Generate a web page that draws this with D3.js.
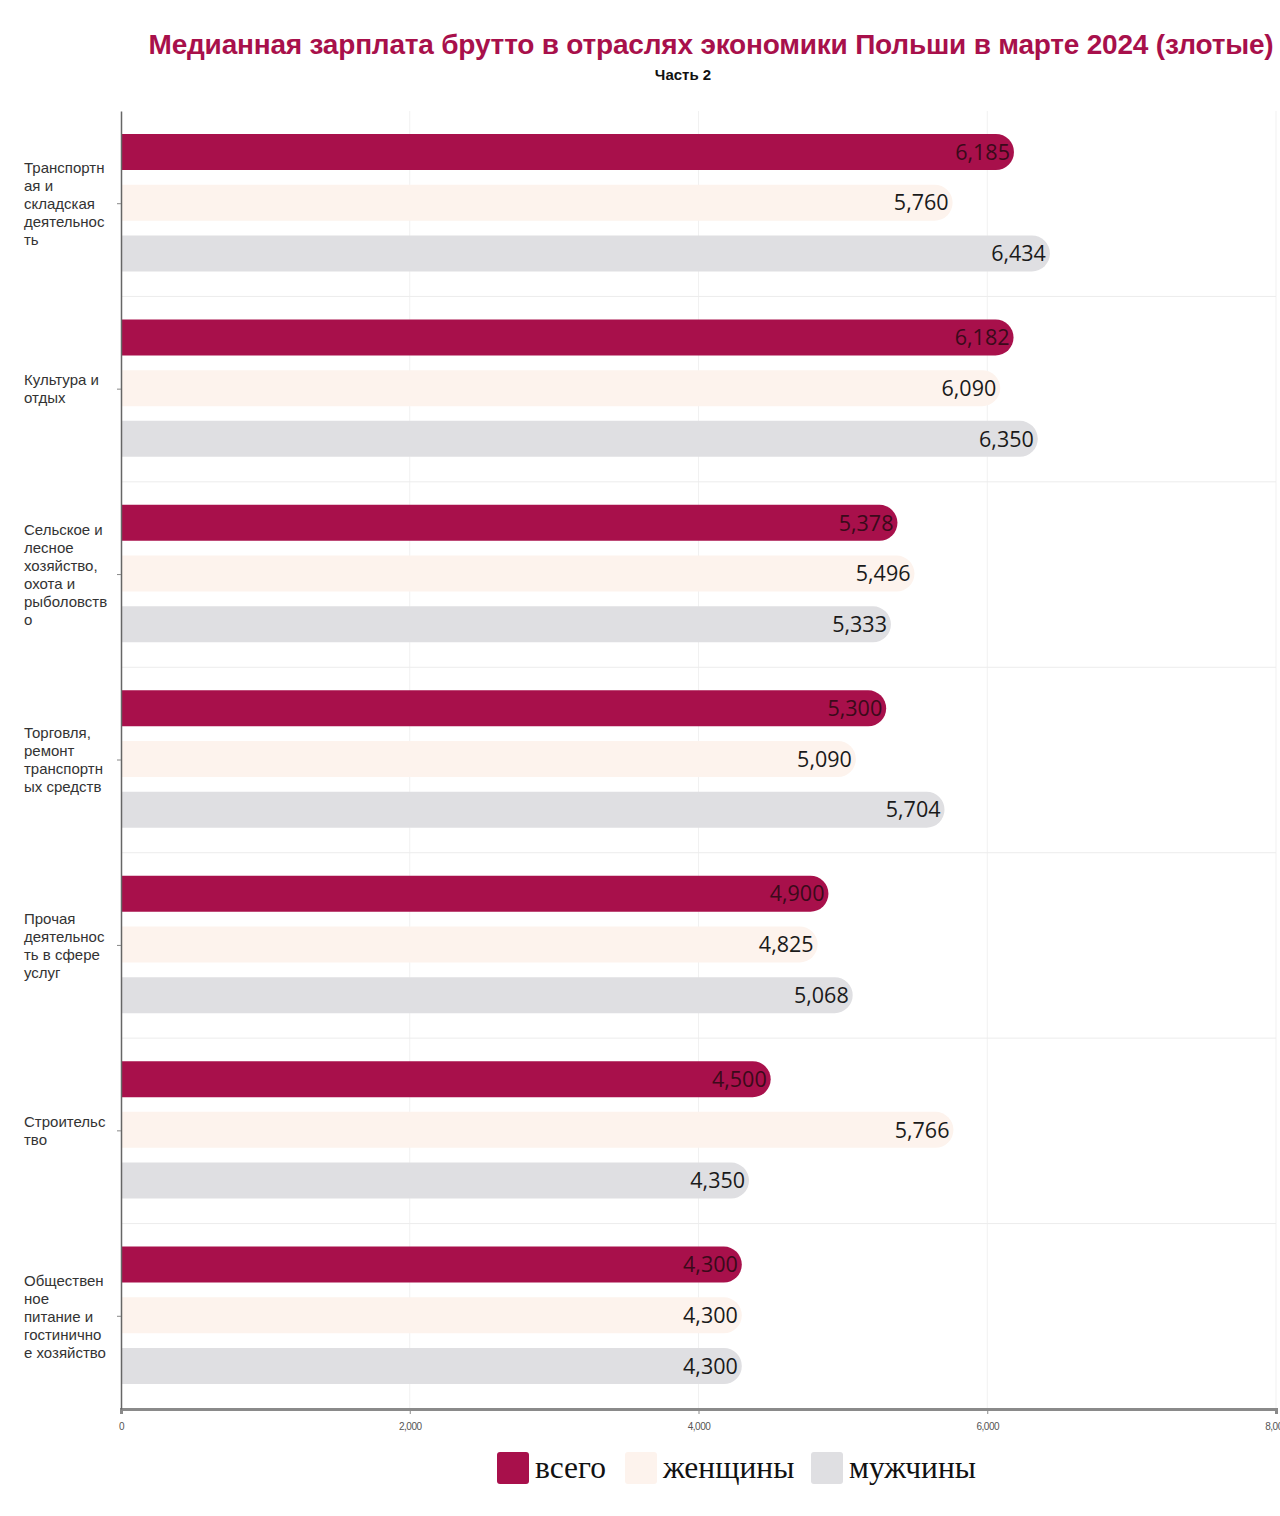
<!DOCTYPE html>
<html><head><meta charset="utf-8">
<script src="https://cdn.jsdelivr.net/npm/d3@7"></script>
<style>
body{margin:0;background:#fff;}
svg{display:block;}
</style></head>
<body>
<svg id="chart" width="1280" height="1516"></svg>
<script>
const categories = [
  "Транспортная и складская деятельность",
  "Культура и отдых",
  "Сельское и лесное хозяйство, охота и рыболовство",
  "Торговля, ремонт транспортных средств",
  "Прочая деятельность в сфере услуг",
  "Строительство",
  "Общественное питание и гостиничное хозяйство"
];
const seriesNames = ["всего", "женщины", "мужчины"];
const totalValues = [6185, 6182, 5378, 5300, 4900, 4500, 4300];
const womenValues = [5760, 6090, 5496, 5090, 4825, 5766, 4300];
const menValues   = [6434, 6350, 5333, 5704, 5068, 4350, 4300];
const xTicks = [0, 2000, 4000, 6000, 8000];
const colors = ["#a8104b", "#fdf3ed", "#dfdfe2"];
const titleText = "Медианная зарплата брутто в отраслях экономики Польши в марте 2024 (злотые)";
const subtitleText = "Часть 2";

const seriesValues = [totalValues, womenValues, menValues];
const svg = d3.select("#chart");
const m = {left:121, right:1276, top:111, bottom:1409};

const x = d3.scaleLinear().domain([0, 8000]).range([m.left, m.right]);
const y = d3.scaleBand().domain(categories).range([m.top, m.bottom]).paddingInner(0).paddingOuter(0);
const yInner = d3.scaleBand().domain(seriesNames).range([23, y.bandwidth() - 25]).paddingInner(0.29);

// title
svg.append("text").attr("x", 711).attr("y", 54).attr("text-anchor","middle")
  .attr("font-family","Liberation Sans, Arial, sans-serif").attr("font-weight","bold")
  .attr("font-size", 28).attr("fill","#a8104b").attr("letter-spacing","-0.2")
  .text(titleText);
svg.append("text").attr("x", 683).attr("y", 80).attr("text-anchor","middle")
  .attr("font-family","Liberation Sans, Arial, sans-serif").attr("font-weight","bold")
  .attr("font-size", 15).attr("fill","#111").text(subtitleText);

// gridlines
const grid = svg.append("g");
grid.selectAll("line.v").data(xTicks.slice(1)).join("line")
  .attr("x1", d=>x(d)).attr("x2", d=>x(d)).attr("y1", m.top).attr("y2", m.bottom)
  .attr("stroke","#f1f1f1").attr("stroke-width",1);
grid.selectAll("line.h").data(categories.slice(1)).join("line")
  .attr("x1", m.left).attr("x2", m.right).attr("y1", d=>y(d)).attr("y2", d=>y(d))
  .attr("stroke","#ececec").attr("stroke-width",1);

// bars
function barPath(x0, x1, y0, h){
  const r = Math.min(h/2, x1-x0);
  return `M${x0},${y0}H${x1-r}A${r},${r} 0 0 1 ${x1},${y0+r}V${y0+h-r}A${r},${r} 0 0 1 ${x1-r},${y0+h}H${x0}Z`;
}
const groups = svg.append("g").selectAll("g").data(categories).join("g")
  .attr("transform", d=>`translate(0,${y(d)})`);
seriesNames.forEach((s, si) => {
  groups.append("path")
    .attr("d", (d,i)=>barPath(x(0), x(seriesValues[si][i]), yInner(s), yInner.bandwidth()))
    .attr("fill", colors[si]);
  groups.append("text")
    .attr("x", (d,i)=>x(seriesValues[si][i]) - 4)
    .attr("y", yInner(s) + yInner.bandwidth()/2)
    .attr("dy","0.36em").attr("text-anchor","end")
    .attr("font-family","Open Sans, sans-serif").attr("font-size", 21.5)
    .attr("fill", si===0 ? "#3a0a1a" : "#1a1a1a")
    .text((d,i)=>d3.format(",")(seriesValues[si][i]));
});

// x axis
const xAxis = svg.append("g").attr("transform",`translate(0,${m.bottom})`)
  .call(d3.axisBottom(x).tickValues(xTicks).tickSize(5).tickFormat(d3.format(",")));
xAxis.select(".domain").attr("stroke","#8a8a8a").attr("stroke-width",3);
xAxis.selectAll(".tick line").attr("stroke","#8a8a8a");
xAxis.selectAll(".tick text").attr("font-family","Liberation Sans Narrow, Liberation Sans, sans-serif")
  .attr("font-size",10).attr("fill","#555").attr("dy","1.3em").attr("letter-spacing","-0.5");

// y axis
const yAxis = svg.append("g").attr("transform",`translate(${m.left},0)`)
  .call(d3.axisLeft(y).tickSize(4).tickSizeOuter(0).tickFormat(""));
yAxis.select(".domain").attr("stroke","#666").attr("stroke-width",1.5);
yAxis.selectAll(".tick line").attr("stroke","#888");

// category labels with wrapping
const labelFont = "Liberation Sans, Arial, sans-serif";
const labelSize = 15;
const maxW = 83.5;
const measurer = svg.append("text").attr("font-family",labelFont).attr("font-size",labelSize);
function w(t){ measurer.text(t); return measurer.node().getComputedTextLength(); }
function wrap(str){
  const words = str.split(" ");
  const lines = [];
  let cur = "";
  words.forEach(word => {
    const trial = cur ? cur + " " + word : word;
    if (w(trial) <= maxW) { cur = trial; return; }
    if (cur) { lines.push(cur); cur = ""; }
    let rest = word;
    while (w(rest) > maxW) {
      let k = rest.length;
      while (k > 1 && w(rest.slice(0,k)) > maxW) k--;
      lines.push(rest.slice(0,k));
      rest = rest.slice(k);
    }
    cur = rest;
  });
  if (cur) lines.push(cur);
  return lines;
}
const lh = 18;
categories.forEach(c => {
  const lines = wrap(c);
  const cy = y(c) + y.bandwidth()/2;
  const t = svg.append("text").attr("font-family",labelFont).attr("font-size",labelSize)
    .attr("fill","#333");
  lines.forEach((ln, i) => {
    t.append("tspan").attr("x", 24)
      .attr("y", cy - (lines.length-1)*lh/2 + i*lh).attr("dy","0.35em").text(ln);
  });
});
measurer.remove();

// legend
const legX = [497, 625, 811];
const leg = svg.append("g").selectAll("g").data(seriesNames).join("g")
  .attr("transform",(d,i)=>`translate(${legX[i]},1452)`);
leg.append("rect").attr("width",32).attr("height",32).attr("rx",3).attr("fill",(d,i)=>colors[i]);
leg.append("text").attr("x",38).attr("y",26)
  .attr("font-family","Liberation Serif, Times New Roman, serif").attr("font-size",31.5)
  .attr("fill","#111").text(d=>d);
</script>
</body></html>
